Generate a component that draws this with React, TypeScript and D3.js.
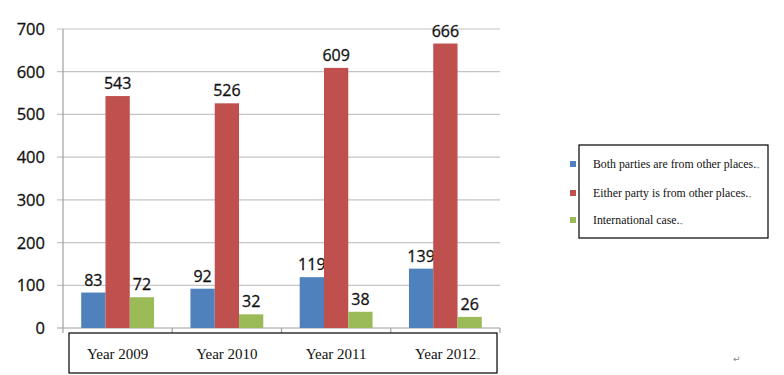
import React from 'react';
import * as d3 from 'd3';

const YEARS = ['Year 2009', 'Year 2010', 'Year 2011', 'Year 2012'];
const SERIES = [
  'Both parties are from other places',
  'Either party is  from other places',
  'International case',
];
const BOTH = [83, 92, 119, 139];
const EITHER = [543, 526, 609, 666];
const INTL = [72, 32, 38, 26];
const COLORS = ['#4F81BD', '#C0504D', '#9BBB59'];
const TICKS = [0, 100, 200, 300, 400, 500, 600, 700];

export default function App() {
  const values = [BOTH, EITHER, INTL];
  const x = d3.scaleBand<string>().domain(YEARS).range([63, 500]);
  const inner = d3.scaleBand<number>().domain([0, 1, 2]).range([0, x.bandwidth()]).paddingOuter(0.75).paddingInner(0);
  const y = d3.scaleLinear().domain([0, 700]).range([328, 29]);
  const sans = "'Open Sans', 'DejaVu Sans', sans-serif";
  const serif = "'Liberation Serif', 'DejaVu Serif', serif";

  return (
    <svg width={784} height={375} style={{ position: 'absolute', left: 0, top: 0, background: '#fff' }}>
      {TICKS.map(t => (
        <g key={t}>
          <line x1={57} x2={500} y1={y(t)} y2={y(t)} stroke={t === 0 ? '#a0a0a0' : '#c4c4c4'} strokeWidth={1.2} />
          <text x={45} y={y(t) + 6} textAnchor="end" fontFamily={sans} fontSize={16.5} fill="#111" stroke="#111" strokeWidth={0.3}>{t}</text>
        </g>
      ))}
      <line x1={63} x2={63} y1={29} y2={333} stroke="#a0a0a0" strokeWidth={1.2} />
      {YEARS.map(yr => (
        <line key={yr} x1={x(yr)! + x.bandwidth()} x2={x(yr)! + x.bandwidth()} y1={328} y2={333} stroke="#a0a0a0" strokeWidth={1.2} />
      ))}
      {YEARS.map((yr, i) => (
        <g key={yr}>
          {values.map((vals, s) => {
            const bx = x(yr)! + inner(s)!;
            return (
              <g key={s}>
                <rect x={bx} y={y(vals[i])} width={inner.bandwidth()} height={328 - y(vals[i])} fill={COLORS[s]} />
                <text x={bx + inner.bandwidth() / 2} y={y(vals[i]) - 7} textAnchor="middle" fontFamily={sans} fontSize={16} fill="#111" stroke="#111" strokeWidth={0.3}>{vals[i]}</text>
              </g>
            );
          })}
        </g>
      ))}
      <rect x={69} y={333} width={428} height={40} fill="#fff" stroke="#000" strokeWidth={1.2} />
      {YEARS.map((yr, i) => (
        <text key={yr} x={x(yr)! + x.bandwidth() / 2 + (i === 3 ? 2 : 0)} y={359} textAnchor="middle" fontFamily={serif} fontSize={15} fill="#111">
          {yr}{i === 3 && <tspan fontSize={7}>.,</tspan>}
        </text>
      ))}
      <rect x={579} y={145} width={189} height={93} fill="#fff" stroke="#000" strokeWidth={1.2} />
      {SERIES.map((s, i) => (
        <g key={s} transform={`translate(0,${[164, 193, 220][i]})`}>
          <rect x={570} y={-3} width={6} height={6} fill={COLORS[i]} />
          <text x={593} y={4} fontFamily={serif} fontSize={11.8} fill="#111">
            {s}.<tspan fontSize={6}>.,</tspan>
          </text>
        </g>
      ))}
      <text x={733} y={362} fontFamily={sans} fontSize={9} fill="#888">↵</text>
    </svg>
  );
}
